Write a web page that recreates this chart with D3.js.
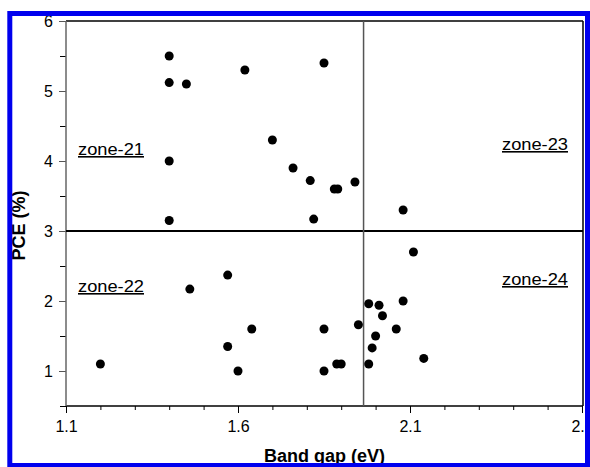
<!DOCTYPE html>
<html lang="en">
<head>
    <meta charset="UTF-8">
    <title>PCE vs band gap</title>
    <script src="https://cdn.jsdelivr.net/npm/d3@7/dist/d3.min.js" charset="utf-8"></script>
    <style>
        body { margin: 0; background: #fff; }
        text { font-family: "Liberation Sans", Arial, sans-serif; }
    </style>
</head>
<body>
<script>
    // data
    var bandGap = [1.40, 1.40, 1.45, 1.62, 1.85, 1.40, 1.70, 1.76, 1.81, 1.88, 1.89, 1.94, 1.40, 1.82,
                   2.08,
                   1.57, 1.46, 1.64, 1.57, 1.20, 1.60, 1.85, 1.95, 1.887, 1.90, 1.85,
                   2.11, 1.98, 2.01, 2.08, 2.02, 2.06, 2.00, 1.99, 2.14, 1.98];
    var pce = [5.50, 5.12, 5.10, 5.30, 5.40, 4.00, 4.30, 3.90, 3.72, 3.60, 3.60, 3.70, 3.15, 3.17,
               3.30,
               2.37, 2.17, 1.60, 1.35, 1.10, 1.00, 1.60, 1.66, 1.10, 1.10, 1.00,
               2.70, 1.96, 1.94, 2.00, 1.79, 1.60, 1.50, 1.33, 1.18, 1.10];

    var xMajor = [1.1, 1.6, 2.1, 2.6];
    var yMajor = [1, 2, 3, 4, 5, 6];
    var zones = ["zone-21", "zone-22", "zone-23", "zone-24"];
    var xSplit = 1.965; // vertical divider
    var ySplit = 3;     // horizontal divider

    // canvas
    var width = 590;
    var height = 467;
    var pLeft = 66, pRight = 583, pTop = 21, pBottom = 406;

    var svg = d3.select("body")
        .append("svg")
        .attr("width", width)
        .attr("height", height);

    var x = d3.scaleLinear().domain([1.1, 2.6]).range([pLeft, pRight - 1]);
    var y = d3.scaleLinear().domain([0.5, 6]).range([pBottom, pTop]);

    // minor ticks
    var xMinor = d3.range(11, 27).map(function (d) { return d / 10; })
        .filter(function (d) { return xMajor.indexOf(d) < 0; });
    var yMinor = d3.range(0.5, 6, 1);

    svg.append("g")
        .attr("transform", "translate(0," + pBottom + ")")
        .call(d3.axisBottom(x).tickValues(xMinor).tickSize(4).tickFormat(""))
        .call(function (g) { g.select(".domain").remove(); });

    svg.append("g")
        .attr("transform", "translate(" + pLeft + ",0)")
        .call(d3.axisLeft(y).tickValues(yMinor).tickSize(6).tickFormat(""))
        .call(function (g) { g.select(".domain").remove(); });

    // major ticks + labels
    var gx = svg.append("g")
        .attr("transform", "translate(0," + pBottom + ")")
        .call(d3.axisBottom(x).tickValues(xMajor).tickSize(7).tickPadding(8)
            .tickFormat(d3.format(".1f")));
    gx.select(".domain").remove();
    gx.selectAll("text").style("font-size", "16px").attr("fill", "#000");

    var gy = svg.append("g")
        .attr("transform", "translate(" + pLeft + ",0)")
        .call(d3.axisLeft(y).tickValues(yMajor).tickSize(7).tickPadding(6)
            .tickFormat(d3.format("d")));
    gy.select(".domain").remove();
    gy.selectAll("text").style("font-size", "16px").attr("fill", "#000");
    gy.selectAll("line").attr("stroke", "#555");

    // frame
    svg.append("line")
        .attr("x1", pLeft).attr("y1", pTop).attr("x2", pRight).attr("y2", pTop)
        .attr("stroke", "#000").attr("stroke-width", 1.5);
    svg.append("line")
        .attr("x1", pRight).attr("y1", pTop).attr("x2", pRight).attr("y2", pBottom)
        .attr("stroke", "#000").attr("stroke-width", 1.5);
    svg.append("line")
        .attr("x1", pLeft).attr("y1", pBottom).attr("x2", pRight).attr("y2", pBottom)
        .attr("stroke", "#000").attr("stroke-width", 1.5);
    svg.append("line")
        .attr("x1", pLeft).attr("y1", pTop).attr("x2", pLeft).attr("y2", pBottom)
        .attr("stroke", "#666").attr("stroke-width", 1.5);

    // dividers
    svg.append("line")
        .attr("x1", pLeft).attr("y1", y(ySplit)).attr("x2", pRight).attr("y2", y(ySplit))
        .attr("stroke", "#000").attr("stroke-width", 1.8);
    svg.append("line")
        .attr("x1", x(xSplit)).attr("y1", pTop).attr("x2", x(xSplit)).attr("y2", pBottom)
        .attr("stroke", "#555").attr("stroke-width", 1.5);

    // zone labels
    var zonePos = [
        {x: 78, y: 155},
        {x: 78, y: 292},
        {x: 502, y: 150},
        {x: 502, y: 285}
    ];
    svg.selectAll(".zone")
        .data(zones)
        .enter()
        .append("text")
        .attr("class", "zone")
        .attr("x", function (d, i) { return zonePos[i].x; })
        .attr("y", function (d, i) { return zonePos[i].y; })
        .attr("textLength", 66)
        .attr("lengthAdjust", "spacingAndGlyphs")
        .style("font-size", "16px")
        .style("text-decoration", "underline")
        .text(function (d) { return d; });

    // points
    svg.selectAll(".pt")
        .data(bandGap)
        .enter()
        .append("circle")
        .attr("class", "pt")
        .attr("cx", function (d) { return x(d); })
        .attr("cy", function (d, i) { return y(pce[i]); })
        .attr("r", 4.5)
        .style("fill", "#000");

    // axis titles
    svg.append("text")
        .attr("x", (pLeft + pRight) / 2)
        .attr("y", 462)
        .attr("text-anchor", "middle")
        .style("font-size", "18px")
        .style("font-weight", "bold")
        .text("Band gap (eV)");

    svg.append("text")
        .attr("transform", "translate(25," + y(3.08) + ") rotate(-90)")
        .attr("text-anchor", "middle")
        .style("font-size", "18px")
        .style("font-weight", "bold")
        .text("PCE (%)");

    // blue border on top
    svg.append("rect")
        .attr("x", 9.8).attr("y", 13.5)
        .attr("width", 577.7).attr("height", 452)
        .attr("fill", "none")
        .attr("stroke", "#0000ee")
        .attr("stroke-width", 5);
</script>
</body>
</html>
